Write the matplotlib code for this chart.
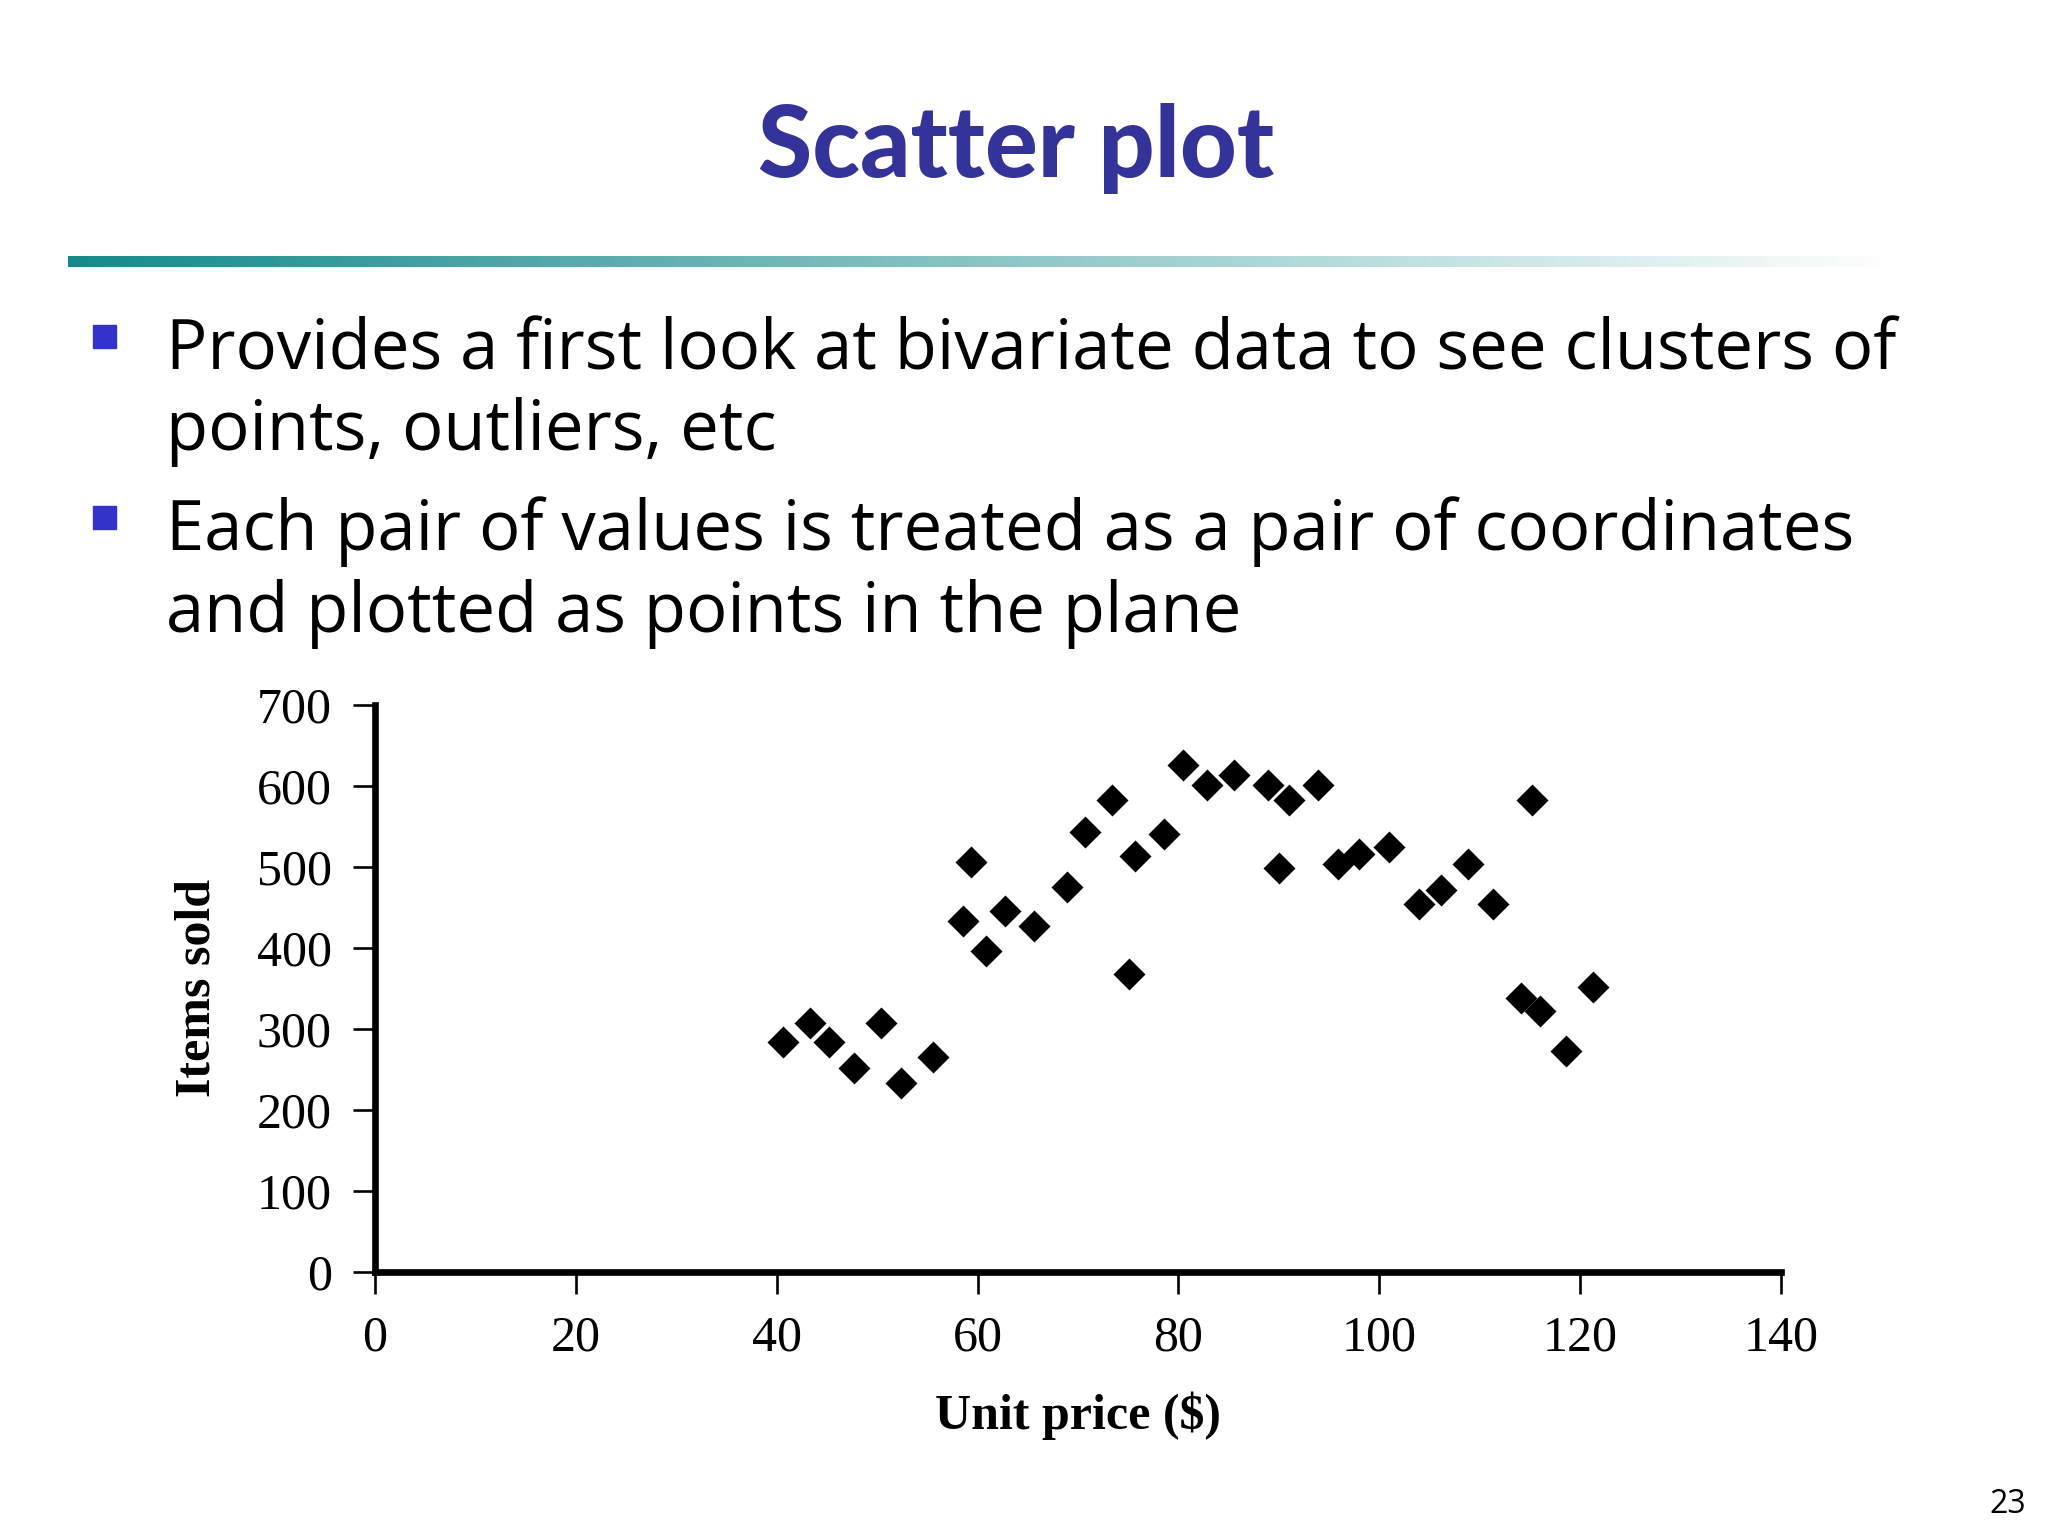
import numpy as np
import matplotlib
matplotlib.use("Agg")
import matplotlib.pyplot as plt
from matplotlib.colors import LinearSegmentedColormap
from matplotlib.patches import Rectangle

# ── data ──────────────────────────────────────────────────────────────────
unit_price = [40.6, 43.3, 45.2, 47.7, 50.4, 52.4, 55.6, 58.5, 59.3, 60.8,
              62.7, 65.6, 68.9, 70.7, 73.4, 75.1, 75.7, 78.6, 80.5, 82.8,
              85.5, 88.9, 90.0, 91.0, 93.9, 95.9, 98.0, 101.0, 104.0, 106.1,
              108.8, 111.3, 114.1, 115.2, 116.0, 118.6, 121.3]
items_sold = [283, 307, 283, 252, 307, 233, 265, 433, 506, 396,
              446, 427, 475, 543, 582, 367, 514, 541, 626, 601,
              614, 601, 498, 582, 601, 504, 516, 525, 454, 472,
              503, 454, 338, 582, 322, 273, 352]

x_ticks = [0, 20, 40, 60, 80, 100, 120, 140]
y_ticks = [0, 100, 200, 300, 400, 500, 600, 700]

title = "Scatter plot"
bullets = [
    ["Provides a first look at bivariate data to see clusters of",
     "points, outliers, etc"],
    ["Each pair of values is treated as a pair of coordinates",
     "and plotted as points in the plane"],
]
page_no = "23"

W, H = 2048, 1536
fig = plt.figure(figsize=(W / 100, H / 100), dpi=100)
fig.patch.set_facecolor("white")


def fx(px):
    return px / W


def fy(py):
    # pixel rows are counted from the top
    return 1 - py / H


# title
fig.text(fx(1016), fy(177), title, ha="center", va="baseline",
         family="Lato", weight="black", fontsize=71, color="#333399")

# gradient rule under the title
bar = fig.add_axes([fx(68), fy(267), fx(1900 - 68), 11 / H])
bar.axis("off")
teal_fade = LinearSegmentedColormap.from_list("fade", ["#168a8a", "#ffffff"])
bar.imshow(np.linspace(0, 1, 256)[None, :], cmap=teal_fade, aspect="auto",
           extent=[0, 1, 0, 1])

# bullet text
baselines = [[369, 450], [550, 632]]
for lines, ys in zip(bullets, baselines):
    fig.patches.append(Rectangle((fx(93), fy(ys[0] - 21)), 23 / W, 23 / H,
                                 transform=fig.transFigure, color="#3333cc"))
    for line, yb in zip(lines, ys):
        fig.text(fx(166), fy(yb), line, ha="left", va="baseline",
                 family="Open Sans", fontsize=49.5, color="black")

fig.text(fx(2026), fy(1513), page_no, ha="right", va="baseline",
         family="Open Sans", fontsize=23, color="black")

# ── scatter ───────────────────────────────────────────────────────────────
ax = fig.add_axes([fx(375), fy(1271.5), fx(1781 - 375), 566.5 / H])
ax.scatter(unit_price, items_sold, marker="D", s=16.3 ** 2, color="black",
           linewidths=0, zorder=3, clip_on=False)

ax.set_xlim(0, 140)
ax.set_ylim(0, 700)
ax.set_xticks(x_ticks)
ax.set_yticks(y_ticks)

serif = "Liberation Serif"
for lab in ax.get_xticklabels() + ax.get_yticklabels():
    lab.set_family(serif)
    lab.set_fontsize(36)

ax.tick_params(direction="out", length=16, width=1.9, color="black")
ax.tick_params(axis="x", pad=15)
ax.tick_params(axis="y", pad=15)

for side in ("top", "right"):
    ax.spines[side].set_visible(False)
for side in ("left", "bottom"):
    ax.spines[side].set_linewidth(4.8)
    ax.spines[side].set_color("black")
ax.spines["left"].set_capstyle("projecting")

ax.set_xlabel("Unit price ($)", family=serif, weight="bold", fontsize=36,
              labelpad=22)
ax.set_ylabel("Items sold", family=serif, weight="bold", fontsize=36,
              labelpad=26)

fig.savefig("out.png", dpi=100, facecolor="white")
